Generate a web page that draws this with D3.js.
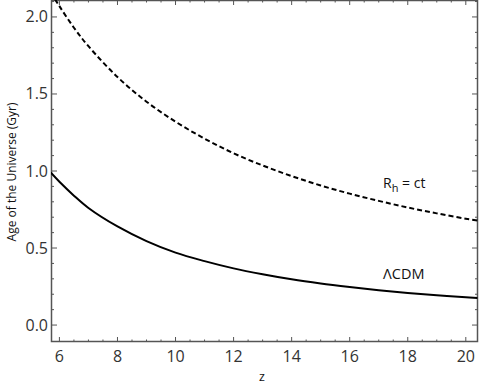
<!DOCTYPE html>
<html><head><meta charset="utf-8">
<script src="https://cdn.jsdelivr.net/npm/d3@7"></script>
<style>body{margin:0;background:#fff}svg{display:block}</style>
</head><body>
<script>
const zValues = [5.7, 6, 6.5, 7, 8, 9, 10, 11, 12, 13, 14, 15, 16, 17, 18, 19, 20, 20.4];
const lcdmAge = [0.99, 0.93, 0.84, 0.76, 0.64, 0.545, 0.47, 0.415, 0.368, 0.33, 0.297, 0.27, 0.247, 0.226, 0.208, 0.193, 0.18, 0.175];
const rhAge = [2.16, 2.07, 1.93, 1.81, 1.61, 1.45, 1.32, 1.21, 1.115, 1.036, 0.967, 0.906, 0.853, 0.806, 0.763, 0.725, 0.69, 0.678];
const xTicks = [6, 8, 10, 12, 14, 16, 18, 20];
const yTicks = [0.0, 0.5, 1.0, 1.5, 2.0];

const W = 480, H = 391;
const m = {l: 51, r: 2, t: 0, b: 49};
const svg = d3.select("body").append("svg").attr("width", W).attr("height", H);
const x = d3.scaleLinear().domain([5.71, 20.42]).range([m.l, W - m.r]);
const y = d3.scaleLinear().domain([-0.11, 2.11]).range([H - m.b, m.t]);

svg.append("clipPath").attr("id", "c").append("rect")
  .attr("x", m.l).attr("y", m.t).attr("width", W - m.r - m.l).attr("height", H - m.b - m.t);

const axisColor = "#555";
const font = "'Open Sans', sans-serif";

svg.append("rect").attr("x", m.l + 0.5).attr("y", m.t + 0.5)
  .attr("width", W - m.r - m.l - 1).attr("height", H - m.b - m.t - 1)
  .attr("fill", "none").attr("stroke", axisColor).attr("stroke-width", 1.5);

const xMinor = d3.range(6, 20.5, 0.5).filter(v => !xTicks.includes(v));
const yMinor = d3.range(0, 2.11, 0.1).map(v => +v.toFixed(1)).filter(v => !yTicks.includes(v));

function ticksX(vals, len) {
  const g = svg.append("g").attr("stroke", axisColor).attr("stroke-width", 1);
  vals.forEach(v => {
    g.append("line").attr("x1", x(v)).attr("x2", x(v)).attr("y1", H - m.b).attr("y2", H - m.b - len);
    g.append("line").attr("x1", x(v)).attr("x2", x(v)).attr("y1", m.t).attr("y2", m.t + len);
  });
}
function ticksY(vals, len) {
  const g = svg.append("g").attr("stroke", axisColor).attr("stroke-width", 1);
  vals.forEach(v => {
    g.append("line").attr("y1", y(v)).attr("y2", y(v)).attr("x1", m.l).attr("x2", m.l + len);
    g.append("line").attr("y1", y(v)).attr("y2", y(v)).attr("x1", W - m.r).attr("x2", W - m.r - len);
  });
}
ticksX(xTicks, 5); ticksX(xMinor, 2.5);
ticksY(yTicks, 6); ticksY(yMinor, 3);

svg.append("g").selectAll("text").data(xTicks).join("text")
  .attr("x", d => x(d)).attr("y", H - m.b + 20).attr("text-anchor", "middle")
  .attr("font-family", font).attr("font-size", 16).attr("font-weight", 500).attr("fill", "#333").text(d => d);
svg.append("g").selectAll("text").data(yTicks).join("text")
  .attr("x", m.l - 3).attr("y", d => y(d) + 5.5).attr("text-anchor", "end")
  .attr("font-family", font).attr("font-size", 16).attr("font-weight", 500).attr("fill", "#333").text(d => d.toFixed(1));

svg.append("text").attr("x", 262).attr("y", 381).attr("text-anchor", "middle")
  .attr("font-family", font).attr("font-size", 12.5).attr("fill", "#111").text("z");
svg.append("text").attr("transform", "translate(16,172) rotate(-90)").attr("text-anchor", "middle")
  .attr("font-family", font).attr("font-size", 12).attr("fill", "#111").text("Age of the Universe (Gyr)");

const line = d3.line().x((d, i) => x(zValues[i])).y(d => y(d)).curve(d3.curveCatmullRom);
const plot = svg.append("g").attr("clip-path", "url(#c)");
plot.append("path").attr("d", line(lcdmAge)).attr("fill", "none").attr("stroke", "#000").attr("stroke-width", 2);
plot.append("path").attr("d", line(rhAge)).attr("fill", "none").attr("stroke", "#000").attr("stroke-width", 2)
  .attr("stroke-dasharray", "5,3");

const lab1 = svg.append("text").attr("x", 383).attr("y", 188)
  .attr("font-family", font).attr("font-size", 14).attr("fill", "#111");
lab1.append("tspan").text("R");
lab1.append("tspan").attr("font-size", 11).attr("dy", 4).text("h");
lab1.append("tspan").attr("dy", -4).text(" = ct");
svg.append("text").attr("x", 383).attr("y", 279)
  .attr("font-family", font).attr("font-size", 14.5).attr("fill", "#111").text("ΛCDM");
</script>
</body></html>
